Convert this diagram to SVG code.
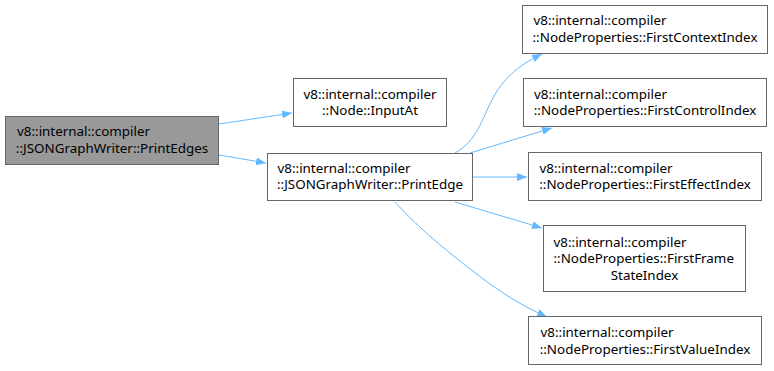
<svg xmlns="http://www.w3.org/2000/svg" width="774" height="371" viewBox="0 0 774 371">
<defs>
  <marker id="arrow" viewBox="0 0 10 8" refX="10" refY="4" markerWidth="10" markerHeight="8" markerUnits="userSpaceOnUse" orient="auto">
    <path d="M0,0 L10,4 L0,8 Z" fill="#63b8ff"/>
  </marker>
  <style>
    .box { fill: #ffffff; stroke: #666666; stroke-width: 1; }
    .cur { fill: #999999; stroke: #666666; stroke-width: 1; }
    text { font-family: "Noto Sans", "DejaVu Sans", sans-serif; font-size: 13.4px; fill: #000000; }
    .mid { text-anchor: middle; }
    .edge { fill: none; stroke: #63b8ff; stroke-width: 1; marker-end: url(#arrow); }
  </style>
</defs>
<rect width="774" height="371" fill="#ffffff"/>

<g id="connectors">
  <path class="edge" d="M219,124 L292,113"/>
  <path class="edge" d="M219,155 L266,163"/>
  <path class="edge" d="M455,153 C478,140 482,118 492,100 C502,80 517,66 542,54"/>
  <path class="edge" d="M470,153 L552,128"/>
  <path class="edge" d="M473,177 L527,177"/>
  <path class="edge" d="M455,202 L542,228"/>
  <path class="edge" d="M395,202 C420,230 455,258 490,284 C510,298 525,307 547,317"/>
</g>

<g id="node-PrintEdges">
  <rect class="cur" x="5.5" y="116.5" width="213" height="48"/>
  <text x="17" y="136.3">v8::internal::compiler</text>
  <text class="mid" x="112" y="152.7">::JSONGraphWriter::PrintEdges</text>
</g>

<g id="node-InputAt">
  <rect class="box" x="293.5" y="78.5" width="153" height="48"/>
  <text class="mid" x="370" y="98.8">v8::internal::compiler</text>
  <text class="mid" x="370" y="115.2">::Node::InputAt</text>
</g>

<g id="node-PrintEdge">
  <rect class="box" x="267.5" y="153.5" width="205" height="47"/>
  <text x="277.5" y="172.8">v8::internal::compiler</text>
  <text class="mid" x="370" y="189.2">::JSONGraphWriter::PrintEdge</text>
</g>

<g id="node-FirstContextIndex">
  <rect class="box" x="522.5" y="5.5" width="245" height="48"/>
  <text x="533.5" y="25.3">v8::internal::compiler</text>
  <text class="mid" x="645" y="41.7">::NodeProperties::FirstContextIndex</text>
</g>

<g id="node-FirstControlIndex">
  <rect class="box" x="523.5" y="78.5" width="243" height="48"/>
  <text x="534" y="98.8">v8::internal::compiler</text>
  <text class="mid" x="645" y="115.2">::NodeProperties::FirstControlIndex</text>
</g>

<g id="node-FirstEffectIndex">
  <rect class="box" x="528.5" y="152.5" width="233" height="48"/>
  <text x="539.5" y="172.8">v8::internal::compiler</text>
  <text class="mid" x="645" y="189.2">::NodeProperties::FirstEffectIndex</text>
</g>

<g id="node-FirstFrameStateIndex">
  <rect class="box" x="543.5" y="225.5" width="202" height="66"/>
  <text x="553.5" y="246.5">v8::internal::compiler</text>
  <text x="553.5" y="263">::NodeProperties::FirstFrame</text>
  <text class="mid" x="644.5" y="279.5">StateIndex</text>
</g>

<g id="node-FirstValueIndex">
  <rect class="box" x="528.5" y="316.5" width="233" height="48"/>
  <text x="540.5" y="337.3">v8::internal::compiler</text>
  <text class="mid" x="645" y="353.7">::NodeProperties::FirstValueIndex</text>
</g>
</svg>
